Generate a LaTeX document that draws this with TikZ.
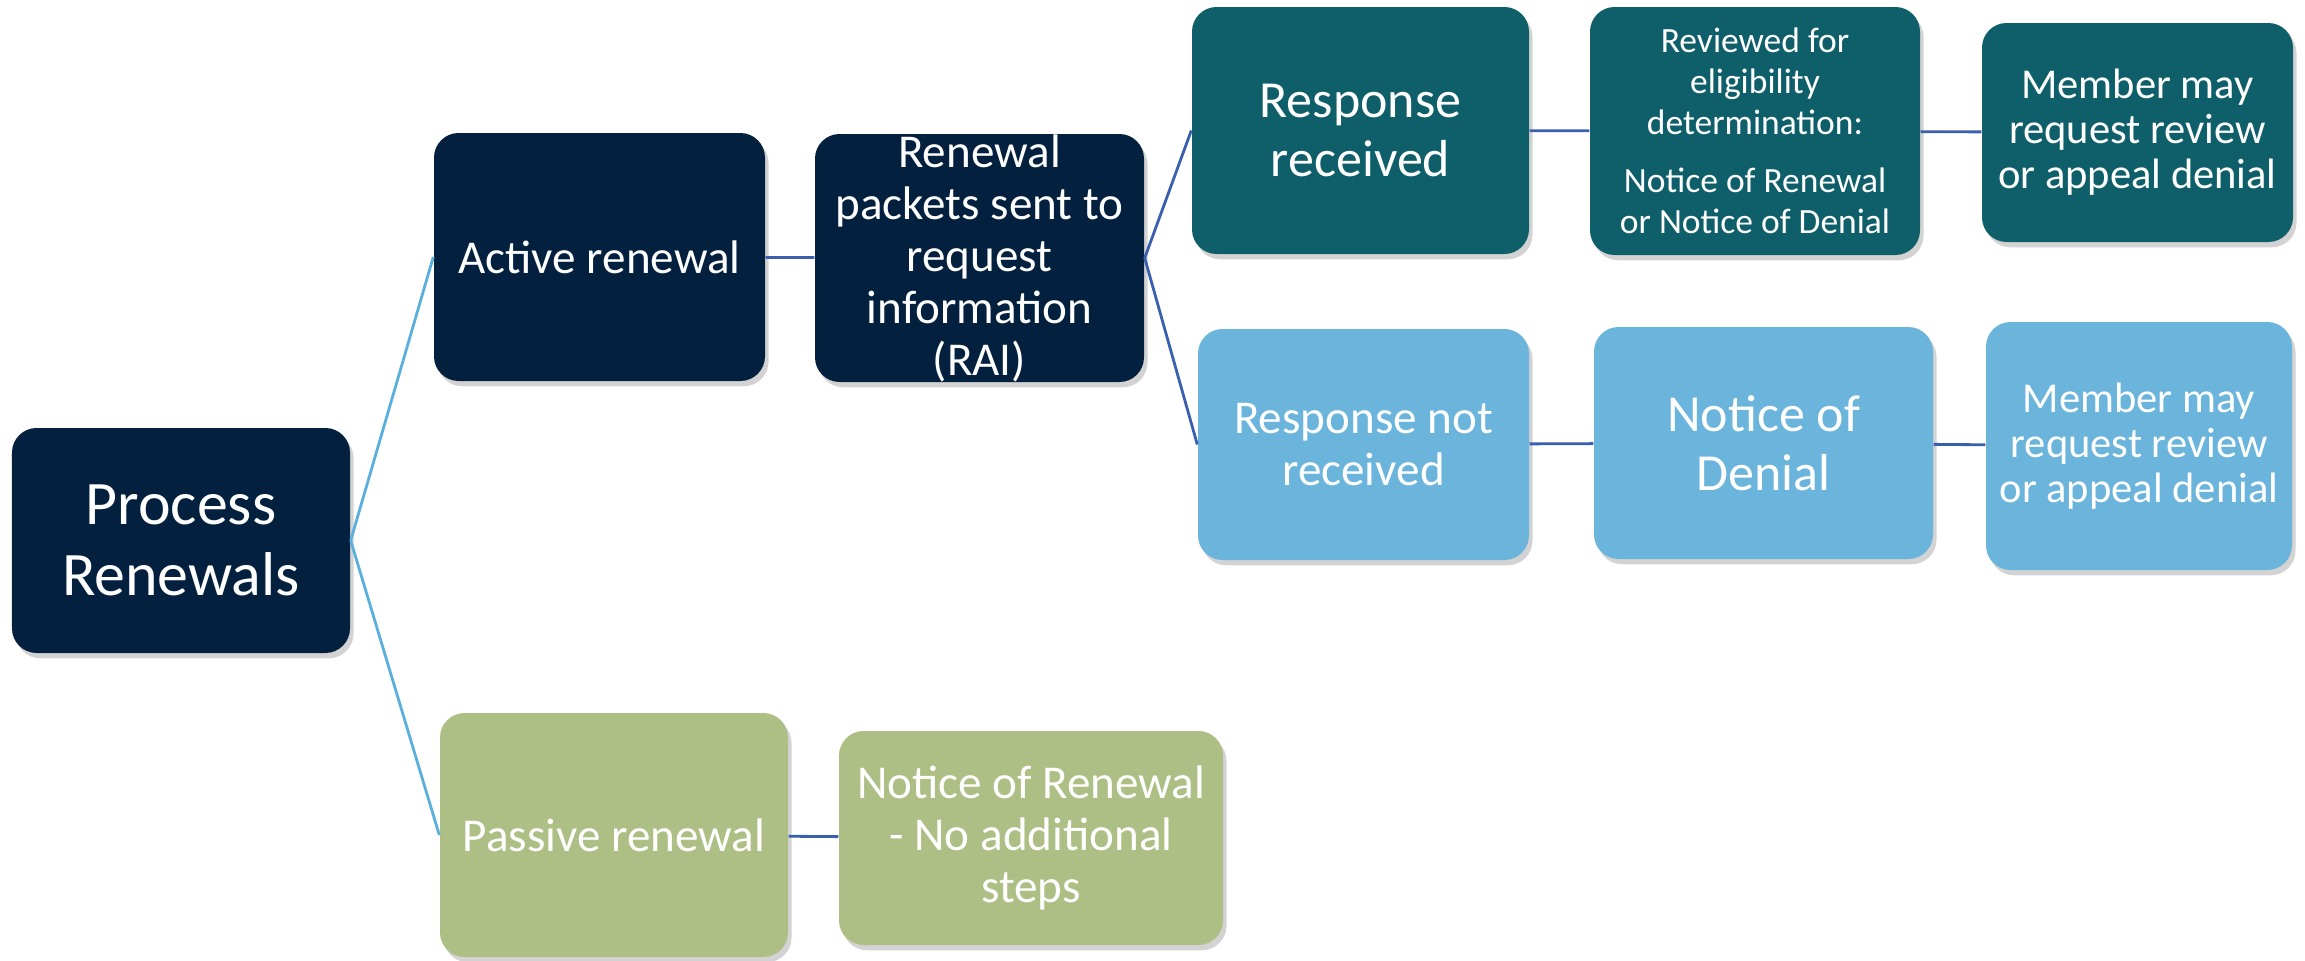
\documentclass[tikz,border=0pt]{standalone}
\usepackage{fontspec}
\setmainfont{Carlito}
\usetikzlibrary{shadows}
\definecolor{rnavy}{HTML}{03203F}
\definecolor{rteal}{HTML}{0F5F6B}
\definecolor{rsky}{HTML}{6BB4DC}
\definecolor{rsage}{HTML}{ADBF84}
\definecolor{rlight}{HTML}{5BAFDD}
\definecolor{rdark}{HTML}{3A5FAF}

\begin{document}
\begin{tikzpicture}[
    mybox/.style={rectangle, rounded corners=7pt, text=white, align=center, inner sep=0pt, drop shadow={shadow xshift=1pt, shadow yshift=-1.5pt, opacity=0.35}},
    fhuge/.style={font=\fontsize{17.6}{20.2}\selectfont},
    fbig/.style={font=\fontsize{14.8}{16.8}\selectfont},
    fmid/.style={font=\fontsize{13.4}{14.8}\selectfont},
    fsmall/.style={font=\fontsize{12.1}{12.8}\selectfont},
    ftiny/.style={font=\fontsize{10.1}{11.6}\selectfont},
    lnk/.style={line width=0.8pt, draw=rdark}
]
    \useasboundingbox (0,0) rectangle (23.05,9.6);

    \node[mybox, fhuge, fill=rnavy, minimum width=3.38cm, minimum height=2.25cm] (proc) at (1.81,4.195) {Process\\Renewals};

    % active branch
    \node[mybox, fmid, fill=rnavy, minimum width=3.31cm, minimum height=2.48cm] (act) at (5.995,7.03) {Active renewal};
    \node[mybox, fill=rnavy, minimum width=3.29cm, minimum height=2.48cm] (rai) at (9.795,7.02) {};
    \node[fmid, text=white, align=center, inner sep=0pt] (raitext) at (rai.center) {Renewal\\packets sent to\\request\\information\\(RAI)};

    \node[mybox, fbig, fill=rteal, minimum width=3.37cm, minimum height=2.47cm] (resp) at (13.605,8.295) {Response\\received};
    \node[mybox, ftiny, fill=rteal, minimum width=3.30cm, minimum height=2.48cm] (rev) at (17.55,8.29) {Reviewed for\\eligibility\\determination:\\[5pt]Notice of Renewal\\or Notice of Denial};
    \node[mybox, fsmall, fill=rteal, minimum width=3.11cm, minimum height=2.19cm] (memA) at (21.375,8.275) {Member may\\request review\\or appeal denial};

    \node[mybox, fmid, fill=rsky, minimum width=3.31cm, minimum height=2.31cm] (nresp) at (13.635,5.155) {Response not\\received};
    \node[mybox, fbig, fill=rsky, minimum width=3.39cm, minimum height=2.32cm] (nod) at (17.635,5.17) {Notice of\\Denial};
    \node[mybox, fsmall, fill=rsky, minimum width=3.06cm, minimum height=2.48cm] (memB) at (21.39,5.14) {Member may\\request review\\or appeal denial};

    % passive branch
    \node[mybox, fmid, fill=rsage, minimum width=3.48cm, minimum height=2.44cm] (pas) at (6.14,1.25) {Passive renewal};
    \node[mybox, fmid, fill=rsage, minimum width=3.84cm, minimum height=2.14cm] (nor) at (10.31,1.22) {Notice of Renewal\\- No additional\\steps};

    \draw[lnk, draw=rlight] (proc.east) -- (act.west);
    \draw[lnk, draw=rlight] (proc.east) -- (pas.west);
    \draw[lnk] (act) -- (rai);
    \draw[lnk] (rai.east) -- (resp.west);
    \draw[lnk] (rai.east) -- (nresp.west);
    \draw[lnk] (resp) -- (rev);
    \draw[lnk] (rev) -- (memA);
    \draw[lnk] (nresp) -- (nod);
    \draw[lnk] (nod) -- (memB);
    \draw[lnk] (pas) -- (nor);
\end{tikzpicture}
\end{document}
